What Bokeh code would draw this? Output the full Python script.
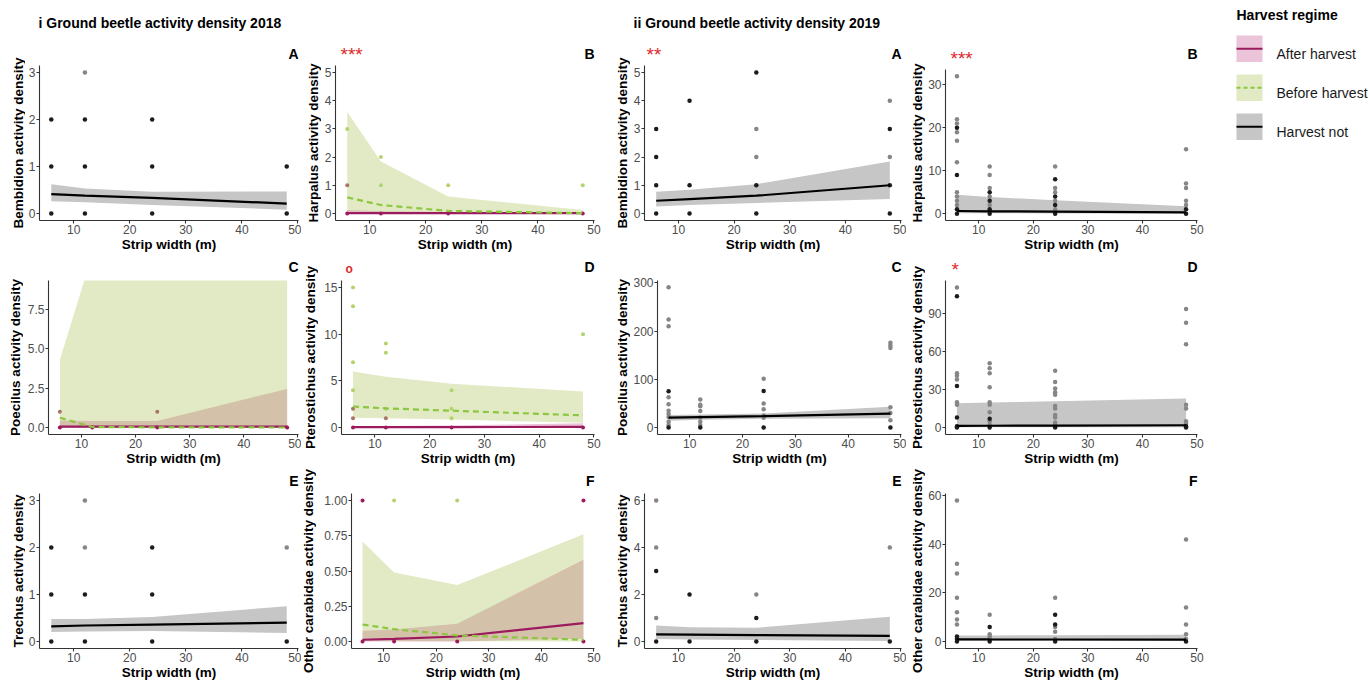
import math
from bokeh.plotting import figure
from bokeh.models import Range1d, FixedTicker, NumeralTickFormatter
from bokeh.layouts import row, column
from bokeh.embed import file_html
from bokeh.resources import INLINE
from bokeh.core.properties import value

FONT = "Liberation Sans"

# ---------------- data ----------------
STRIP = [6, 12, 24, 48]
X_TICKS = [10, 20, 30, 40, 50]
X_LABEL = "Strip width (m)"
REGIMES = ["After harvest", "Before harvest", "Harvest not"]
TITLES = ["i Ground beetle activity density 2018", "ii Ground beetle activity density 2019"]
LETTERS = [["A", "B", "A", "B"], ["C", "D", "C", "D"], ["E", "F", "E", "F"]]
Y_LABELS = [["Bembidion activity density", "Harpalus activity density",
             "Bembidion activity density", "Harpalus activity density"],
            ["Poecilus activity density", "Pterostichus activity density",
             "Poecilus activity density", "Pterostichus activity density"],
            ["Trechus activity density", "Other carabidae activity density",
             "Trechus activity density", "Other carabidae activity density"]]
SIGNIF = {(0, 1): "***", (0, 2): "**", (0, 3): "***", (1, 3): "*", (1, 1): "o"}

# 2018 A  Bembidion
BEM18_DARK = [[0, 1, 2], [0, 1, 2], [0, 1, 2], [0, 1]]
BEM18_LIGHT = [[], [3], [], []]
BEM18_FIT = [0.41, 0.38, 0.33, 0.21]
BEM18_LO = [0.26, 0.24, 0.18, 0.08]
BEM18_HI = [0.62, 0.53, 0.46, 0.47]

# 2018 B  Harpalus
HAR18_AFTER_PTS = [[0], [0], [0], [0]]
HAR18_BEFORE_PTS = [[3], [2, 1], [1], [1]]
HAR18_MIX_PTS = [[1], [], [], []]
HAR18_AFTER_FIT = [0.01, 0.01, 0.01, 0.01]
HAR18_AFTER_LO = [0.0, 0.0, 0.0, 0.0]
HAR18_AFTER_HI = [0.12, 0.08, 0.05, 0.04]
HAR18_BEFORE_FIT = [0.57, 0.30, 0.09, 0.01]
HAR18_BEFORE_LO = [0.09, 0.04, 0.01, 0.0]
HAR18_BEFORE_HI = [3.6, 1.84, 0.6, 0.12]

# 2018 C  Poecilus
POE18_AFTER_PTS = [[0], [0], [0], [0]]
POE18_BEFORE_PTS = [[], [0], [], [0]]
POE18_MIX_PTS = [[1], [], [1], []]
POE18_AFTER_FIT = [0.05, 0.05, 0.05, 0.06]
POE18_AFTER_LO = [0.0, 0.0, 0.0, 0.0]
POE18_AFTER_HI = [0.45, 0.42, 0.42, 2.45]
POE18_BEFORE_FIT = [0.62, 0.03, 0.01, 0.0]
POE18_BEFORE_LO = [0.0, 0.0, 0.0, 0.0]
POE18_BEFORE_HI = [4.3, 11.0, 60.0, 200.0]

# 2018 D  Pterostichus
PTE18_AFTER_PTS = [[0], [0], [0], [0]]
PTE18_BEFORE_PTS = [[15, 13, 7, 4], [9, 8, 2], [4, 2, 1], [10]]
PTE18_MIX_PTS = [[2, 1], [1], [], []]
PTE18_AFTER_FIT = [0.05, 0.05, 0.05, 0.06]
PTE18_AFTER_LO = [0.0, 0.0, 0.0, 0.0]
PTE18_AFTER_HI = [0.12, 0.15, 0.22, 0.45]
PTE18_BEFORE_FIT = [2.25, 2.05, 1.8, 1.3]
PTE18_BEFORE_LO = [1.05, 1.0, 0.85, 0.5]
PTE18_BEFORE_HI = [6.0, 5.45, 4.7, 3.85]

# 2018 E  Trechus
TRE18_DARK = [[0, 1, 2], [0, 1], [0, 1, 2], [0]]
TRE18_LIGHT = [[], [2, 3], [], [2]]
TRE18_FIT = [0.32, 0.34, 0.36, 0.40]
TRE18_LO = [0.20, 0.21, 0.22, 0.18]
TRE18_HI = [0.48, 0.48, 0.52, 0.75]

# 2018 F  Other carabidae
OTH18_AFTER_PTS = [[1, 0], [0], [0], [1, 0]]
OTH18_BEFORE_PTS = [[], [1], [1], []]
OTH18_MIX_PTS = [[], [], [], []]
OTH18_AFTER_FIT = [0.012, 0.019, 0.035, 0.13]
OTH18_AFTER_LO = [0.0, 0.0, 0.0, 0.02]
OTH18_AFTER_HI = [0.076, 0.085, 0.125, 0.58]
OTH18_BEFORE_FIT = [0.12, 0.087, 0.043, 0.012]
OTH18_BEFORE_LO = [0.005, 0.004, 0.002, 0.0]
OTH18_BEFORE_HI = [0.71, 0.49, 0.40, 0.76]

# 2019 A  Bembidion
BEM19_DARK = [[0, 1, 2, 3], [0, 1, 4], [0, 1, 5], [0, 1, 3]]
BEM19_LIGHT = [[], [], [2, 3], [2, 4]]
BEM19_FIT = [0.45, 0.51, 0.63, 1.0]
BEM19_LO = [0.25, 0.30, 0.37, 0.51]
BEM19_HI = [0.77, 0.84, 1.04, 1.84]

# 2019 B  Harpalus
HAR19_DARK = [[0, 1, 9, 20], [0, 1, 3, 5], [0, 2, 4, 8], [0, 1]]
HAR19_LIGHT = [[2, 3, 4, 5, 12, 17, 19, 21, 22, 32], [2, 4, 6, 9, 11], [1, 3, 5, 6, 11], [2, 3, 6, 7, 15]]
HAR19_FIT = [0.62, 0.55, 0.45, 0.30]
HAR19_LO = [0.10, 0.08, 0.06, 0.02]
HAR19_HI = [4.4, 3.9, 3.1, 1.75]

# 2019 C  Poecilus
POE19_DARK = [[0, 75], [0], [0, 76], [0]]
POE19_LIGHT = [[5, 12, 22, 28, 35, 48, 63, 210, 224, 291], [5, 12, 21, 34, 44, 47, 58],
               [20, 25, 38, 50, 101], [15, 30, 42, 165, 170, 176]]
POE19_FIT = [20.5, 21.5, 23.5, 29.0]
POE19_LO = [14.0, 16.0, 18.0, 19.0]
POE19_HI = [26.0, 27.0, 29.0, 43.0]

# 2019 D  Pterostichus
PTE19_DARK = [[0, 1, 8, 33, 104], [0, 7], [0], [0, 1]]
PTE19_LIGHT = [[18, 20, 38, 41, 43, 111], [2, 5, 12, 18, 20, 32, 43, 47, 51],
               [2, 4, 8, 10, 15, 17, 26, 28, 31, 36, 45], [3, 5, 15, 18, 66, 83, 94]]
PTE19_FIT = [1.3, 1.4, 1.5, 1.8]
PTE19_LO = [0.2, 0.2, 0.2, 0.2]
PTE19_HI = [19.3, 19.8, 20.8, 22.9]

# 2019 E  Trechus
TRE19_DARK = [[0, 3], [0, 2], [0, 1], [0]]
TRE19_LIGHT = [[1, 4, 6], [], [2], [4]]
TRE19_FIT = [0.30, 0.29, 0.27, 0.24]
TRE19_LO = [0.10, 0.08, 0.06, 0.02]
TRE19_HI = [0.68, 0.60, 0.58, 1.05]

# 2019 F  Other carabidae
OTH19_DARK = [[0, 1, 2], [0, 6], [0, 7, 11], [0]]
OTH19_LIGHT = [[7, 9, 12, 18, 28, 32, 58], [1, 2, 3, 11], [1, 4, 6, 18], [1, 3, 7, 14, 42]]
OTH19_FIT = [0.85, 0.82, 0.80, 0.78]
OTH19_LO = [0.30, 0.30, 0.30, 0.25]
OTH19_HI = [2.5, 2.5, 2.6, 2.8]

# ---------------- style / geometry ----------------
PURPLE = "#9b1b5e"
PINK_FILL = "#b3136b"
PINK_ALPHA = 0.25
GREEN_LINE = "#8dc63f"
GREEN_FILL = "#9bb93a"
GREEN_ALPHA = 0.3
GRAY_FILL = "#c6c6c6"
PT_DARK = "#1c1c1c"
PT_LIGHT = "#868686"
PT_BEFORE = "#b4d26e"
PT_MIX = "#a87566"
STAR_RED = "#e0282c"
AX_COL = "#333333"

HEADER_H = 36
COL_W = [301, 302, 303, 309]
RIGHT_B = [3, 9, 5, 18]
FRAME_LEFT = [[39, 34, 39, 38], [48, 40, 52, 38], [39, 50, 39, 38]]   # from column start
TITLE_XC = [[17.5, 313, 622, 917], [15, 310, 622, 917], [17.5, 308, 622, 917]]  # absolute
CELL_TOP = [36, 256, 468]
CELL_BOT = [256, 468, 682]
FRAME_TOP = [65, 280, 493]
FRAME_H = [155, 154, 155]
STRIP_END = [[65, 65, 65, 69], [278, 279, 274, 280], [489, 489, 489, 488]]
LETTER_Y = [53, 266, 480]
SIG_Y = [54, 270, 270]
SIG_X = {(0, 1): 340, (0, 2): 646, (0, 3): 950, (1, 3): 951, (1, 1): 345}
COL_START = [sum(COL_W[:c]) for c in range(4)]


def title_w(r, c):
    return int(round(TITLE_XC[r][c] - COL_START[c] + 7.6))


def expand(lists):
    xs, ys = [], []
    for sx, vals in zip(STRIP, lists):
        for v in vals:
            xs.append(sx)
            ys.append(v)
    return xs, ys


def blank(w, h, flip=True):
    s = figure(width=w, height=h, x_range=Range1d(0, w),
               y_range=Range1d(h, 0) if flip else Range1d(0, h),
               x_axis_location=None, y_axis_location=None, min_border=0,
               output_backend="svg", toolbar_location=None, title=None)
    s.grid.visible = False
    s.outline_line_color = None
    s.frame_align = False
    return s


def put_text(s, x, y, text, size, color="black", style="bold", align="left", angle=0.0):
    s.text(x=[x], y=[y], text=[text], text_font=value(FONT), text_font_size=size,
           text_font_style=style, text_baseline="middle", text_align=align,
           text_color=color, angle=angle)


def make_fig(rw, col, yrange, yticks, yfmt=None):
    tw = title_w(rw, col)
    w = COL_W[col] - tw
    top = STRIP_END[rw][col]
    h = CELL_BOT[rw] - top
    bt = FRAME_TOP[rw] - top
    bb = h - bt - FRAME_H[rw]
    p = figure(width=w, height=h, x_range=Range1d(3.9, 50.1), y_range=Range1d(*yrange),
               output_backend="svg", toolbar_location=None, title=None,
               min_border_left=FRAME_LEFT[rw][col] - tw, min_border_right=RIGHT_B[col],
               min_border_top=bt, min_border_bottom=bb)
    p.frame_align = False
    p.grid.visible = False
    p.outline_line_color = None
    p.xaxis.ticker = FixedTicker(ticks=X_TICKS)
    p.yaxis.ticker = FixedTicker(ticks=yticks)
    if yfmt:
        p.yaxis.formatter = NumeralTickFormatter(format=yfmt)
    p.xaxis.axis_label = X_LABEL
    for ax in (p.xaxis[0], p.yaxis[0]):
        ax.axis_line_color = AX_COL
        ax.axis_line_width = 1.1
        ax.major_tick_line_color = AX_COL
        ax.major_tick_line_width = 1.1
        ax.major_tick_out = 3
        ax.major_tick_in = 0
        ax.minor_tick_out = 0
        ax.minor_tick_in = 0
        ax.major_label_text_font = FONT
        ax.major_label_text_font_size = "12px"
        ax.major_label_text_color = "#4d4d4d"
        ax.axis_label_text_font = FONT
        ax.axis_label_text_font_size = "13.5px"
        ax.axis_label_text_font_style = "bold"
        ax.axis_label_text_color = "black"
    p.xaxis.major_label_standoff = 1
    p.xaxis.axis_label_standoff = 0
    p.yaxis.major_label_standoff = 1
    p.yaxis.axis_label_standoff = 0
    return p


def draw_single(p, dark, light, fit, lo, hi, size=4.5):
    p.varea(x=STRIP, y1=lo, y2=hi, fill_color=GRAY_FILL, fill_alpha=1.0)
    lx, ly = expand(light)
    dx, dy = expand(dark)
    p.scatter(lx, ly, size=size, fill_color=PT_LIGHT, line_color=None)
    p.scatter(dx, dy, size=size, fill_color=PT_DARK, line_color=None)
    p.line(STRIP, fit, line_color="black", line_width=2.2)


def draw_regimes(p, a_pts, b_pts, m_pts, a_fit, a_lo, a_hi, b_fit, b_lo, b_hi):
    p.varea(x=STRIP, y1=a_lo, y2=a_hi, fill_color=PINK_FILL, fill_alpha=PINK_ALPHA)
    p.varea(x=STRIP, y1=b_lo, y2=b_hi, fill_color=GREEN_FILL, fill_alpha=GREEN_ALPHA)
    bx, by = expand(b_pts)
    mx, my = expand(m_pts)
    ax_, ay = expand(a_pts)
    p.scatter(bx, by, size=4, fill_color=PT_BEFORE, line_color=None)
    p.scatter(mx, my, size=4, fill_color=PT_MIX, line_color=None)
    p.scatter(ax_, ay, size=4, fill_color=PURPLE, line_color=None)
    p.line(STRIP, a_fit, line_color=PURPLE, line_width=2.2)
    p.line(STRIP, b_fit, line_color=GREEN_LINE, line_width=2.2, line_dash="6 4")


# ---------------- panels ----------------
P = {}
p = make_fig(0, 0, (-0.15, 3.15), [0, 1, 2, 3])
draw_single(p, BEM18_DARK, BEM18_LIGHT, BEM18_FIT, BEM18_LO, BEM18_HI)
P[(0, 0)] = p
p = make_fig(0, 1, (-0.25, 5.25), [0, 1, 2, 3, 4, 5])
draw_regimes(p, HAR18_AFTER_PTS, HAR18_BEFORE_PTS, HAR18_MIX_PTS, HAR18_AFTER_FIT, HAR18_AFTER_LO,
             HAR18_AFTER_HI, HAR18_BEFORE_FIT, HAR18_BEFORE_LO, HAR18_BEFORE_HI)
P[(0, 1)] = p
p = make_fig(0, 2, (-0.25, 5.25), [0, 1, 2, 3, 4, 5])
draw_single(p, BEM19_DARK, BEM19_LIGHT, BEM19_FIT, BEM19_LO, BEM19_HI)
P[(0, 2)] = p
p = make_fig(0, 3, (-1.6, 33.6), [0, 10, 20, 30])
draw_single(p, HAR19_DARK, HAR19_LIGHT, HAR19_FIT, HAR19_LO, HAR19_HI)
P[(0, 3)] = p

p = make_fig(1, 0, (-0.445, 9.345), [0, 2.5, 5, 7.5], "0.0")
draw_regimes(p, POE18_AFTER_PTS, POE18_BEFORE_PTS, POE18_MIX_PTS, POE18_AFTER_FIT, POE18_AFTER_LO,
             POE18_AFTER_HI, POE18_BEFORE_FIT, POE18_BEFORE_LO, POE18_BEFORE_HI)
P[(1, 0)] = p
p = make_fig(1, 1, (-0.75, 15.75), [0, 5, 10, 15])
draw_regimes(p, PTE18_AFTER_PTS, PTE18_BEFORE_PTS, PTE18_MIX_PTS, PTE18_AFTER_FIT, PTE18_AFTER_LO,
             PTE18_AFTER_HI, PTE18_BEFORE_FIT, PTE18_BEFORE_LO, PTE18_BEFORE_HI)
P[(1, 1)] = p
p = make_fig(1, 2, (-14.5, 305), [0, 100, 200, 300])
draw_single(p, POE19_DARK, POE19_LIGHT, POE19_FIT, POE19_LO, POE19_HI)
P[(1, 2)] = p
p = make_fig(1, 3, (-5.55, 116.55), [0, 30, 60, 90])
draw_single(p, PTE19_DARK, PTE19_LIGHT, PTE19_FIT, PTE19_LO, PTE19_HI)
P[(1, 3)] = p

p = make_fig(2, 0, (-0.15, 3.15), [0, 1, 2, 3])
draw_single(p, TRE18_DARK, TRE18_LIGHT, TRE18_FIT, TRE18_LO, TRE18_HI)
P[(2, 0)] = p
p = make_fig(2, 1, (-0.05, 1.05), [0, 0.25, 0.5, 0.75, 1.0], "0.00")
draw_regimes(p, OTH18_AFTER_PTS, OTH18_BEFORE_PTS, OTH18_MIX_PTS, OTH18_AFTER_FIT, OTH18_AFTER_LO,
             OTH18_AFTER_HI, OTH18_BEFORE_FIT, OTH18_BEFORE_LO, OTH18_BEFORE_HI)
P[(2, 1)] = p
p = make_fig(2, 2, (-0.3, 6.3), [0, 2, 4, 6])
draw_single(p, TRE19_DARK, TRE19_LIGHT, TRE19_FIT, TRE19_LO, TRE19_HI)
P[(2, 2)] = p
p = make_fig(2, 3, (-2.9, 60.9), [0, 20, 40, 60])
draw_single(p, OTH19_DARK, OTH19_LIGHT, OTH19_FIT, OTH19_LO, OTH19_HI)
P[(2, 3)] = p

# ---------------- cells: y-title strip | (letter strip / plot) ----------------
columns = []
for c in range(4):
    cells = []
    for r in range(3):
        tw = title_w(r, c)
        ch = CELL_BOT[r] - CELL_TOP[r]
        yt = blank(tw, ch, flip=False)
        yc = CELL_BOT[r] - (FRAME_TOP[r] + FRAME_H[r] / 2.0)
        put_text(yt, TITLE_XC[r][c] - COL_START[c], yc, Y_LABELS[r][c], "13.5px",
                 align="center", angle=math.pi / 2)

        sw = COL_W[c] - tw
        sh = STRIP_END[r][c] - CELL_TOP[r]
        s = blank(sw, sh)
        put_text(s, sw - RIGHT_B[c], LETTER_Y[r] - CELL_TOP[r], LETTERS[r][c], "14px", align="right")
        if (r, c) in SIGNIF:
            txt = SIGNIF[(r, c)]
            sx = SIG_X[(r, c)] - COL_START[c] - tw
            if txt == "o":
                put_text(s, sx, 268 - CELL_TOP[r], txt, "12px", color=STAR_RED)
            else:
                ymid = min(SIG_Y[r] - CELL_TOP[r] + 4.2, sh - 10.8)
                put_text(s, sx, ymid, txt, "19px", color=STAR_RED, style="normal")
        cells.append(row(yt, column(s, P[(r, c)])))
    columns.append(column(*cells))

# ---------------- header ----------------
hdr = blank(sum(COL_W), HEADER_H)
put_text(hdr, 38, 22, TITLES[0], "14px")
put_text(hdr, 633, 22, TITLES[1], "14px")

# ---------------- legend ----------------
LEG_W = 154
leg = blank(LEG_W, 682)
put_text(leg, 21, 14, "Harvest regime", "14px")
key_top = [35 + 39 * i for i in range(len(REGIMES))]
key_fill = [PINK_FILL, GREEN_FILL, GRAY_FILL]
key_alpha = [PINK_ALPHA, GREEN_ALPHA, 1.0]
key_line = [PURPLE, GREEN_LINE, "black"]
key_dash = ["solid", "4 3", "solid"]
for i, name in enumerate(REGIMES):
    t = key_top[i]
    leg.quad(left=[21], right=[47], top=[t], bottom=[t + 26.5], fill_color=key_fill[i],
             fill_alpha=key_alpha[i], line_color=None)
    leg.line([21, 47], [t + 13.3, t + 13.3], line_color=key_line[i], line_width=2, line_dash=key_dash[i])
    put_text(leg, 61, t + 18, name, "14px", color="#1a1a1a", style="normal")

layout = row(column(hdr, row(*columns)), leg)
open("out.html", "w").write(file_html(layout, INLINE))
